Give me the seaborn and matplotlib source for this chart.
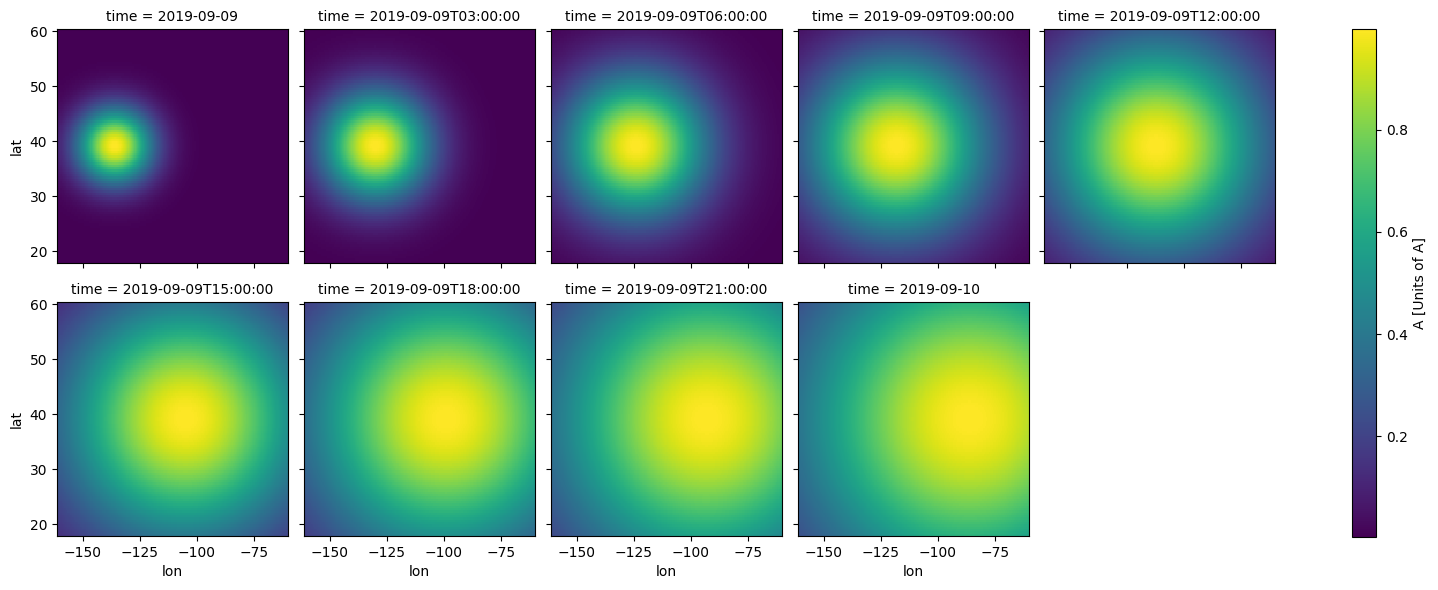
import numpy as np
import pandas as pd
import matplotlib
matplotlib.use("Agg")
import matplotlib.pyplot as plt
import seaborn as sns

# time steps (facet titles)
times = ["2019-09-09", "2019-09-09T03:00:00", "2019-09-09T06:00:00",
         "2019-09-09T09:00:00", "2019-09-09T12:00:00", "2019-09-09T15:00:00",
         "2019-09-09T18:00:00", "2019-09-09T21:00:00", "2019-09-10"]

# blob parameters (centre and spread, in degrees)
center_lon = [-136, -130, -124, -118, -112, -105, -99, -93, -86]
center_lat = [39.2, 39.2, 39.2, 39.2, 39.2, 39.2, 39.2, 39.2, 39.2]
spread_lon = [11.6, 16.6, 22.0, 27.4, 32.8, 38.2, 43.6, 49.0, 54.5]
spread_lat = [4.8, 6.9, 9.1, 11.3, 13.6, 15.8, 18.0, 20.3, 22.5]

# colour range
a_min, a_max = 0.002, 0.998

# grid extent
lon_edges = np.linspace(-161.4, -59.9, 201)
lat_edges = np.linspace(17.9, 60.4, 101)
lon = (lon_edges[:-1] + lon_edges[1:]) / 2
lat = (lat_edges[:-1] + lat_edges[1:]) / 2

# build long table
LON, LAT = np.meshgrid(lon, lat)
frames = []
for t, cx, cy, sx, sy in zip(times, center_lon, center_lat, spread_lon, spread_lat):
    a = np.exp(-((LON - cx) ** 2 / (2 * sx ** 2) + (LAT - cy) ** 2 / (2 * sy ** 2)))
    frames.append(pd.DataFrame({"time": t, "lon": LON.ravel(), "lat": LAT.ravel(), "A": a.ravel()}))
df = pd.concat(frames, ignore_index=True)

meshes = []


def draw_field(data, **kws):
    grid = data.pivot(index="lat", columns="lon", values="A")
    m = plt.gca().pcolormesh(lon_edges, lat_edges, grid.values, cmap="viridis",
                             vmin=a_min, vmax=a_max, shading="flat")
    meshes.append(m)


g = sns.FacetGrid(df, col="time", col_wrap=5, col_order=times, height=2.4, aspect=1,
                  sharex=True, sharey=True, despine=False)
g.map_dataframe(draw_field)
g.set_titles("time = {col_name}")
g.fig.set_size_inches(14.38, 5.9)

W, H = 1438, 590
lefts = [57, 304, 551, 798, 1044]
for i, ax in enumerate(g.axes):
    r, c = divmod(i, 5)
    top = 29 if r == 0 else 302
    ax.set_position([lefts[c] / W, 1 - (top + 234) / H, 231 / W, 234 / H])
    ax.set_xlim(lon_edges[0], lon_edges[-1])
    ax.set_ylim(lat_edges[0], lat_edges[-1])
    ax.set_xticks([-150, -125, -100, -75])
    ax.set_yticks([20, 30, 40, 50, 60])
    ax.set_title(ax.get_title(), fontsize=10)
    ax.set_xlabel("lon" if r == 1 else "")
    ax.set_ylabel("lat" if c == 0 else "")
    if r == 0:
        plt.setp(ax.get_xticklabels(), visible=False)
    else:
        plt.setp(ax.get_xticklabels(), visible=True)
    if c != 0:
        plt.setp(ax.get_yticklabels(), visible=False)

cax = g.fig.add_axes([1352 / W, 1 - 537 / H, 24 / W, 508 / H])
cb = g.fig.colorbar(meshes[0], cax=cax)
cb.set_label("A [Units of A]")

g.fig.savefig("out.png", dpi=100)
